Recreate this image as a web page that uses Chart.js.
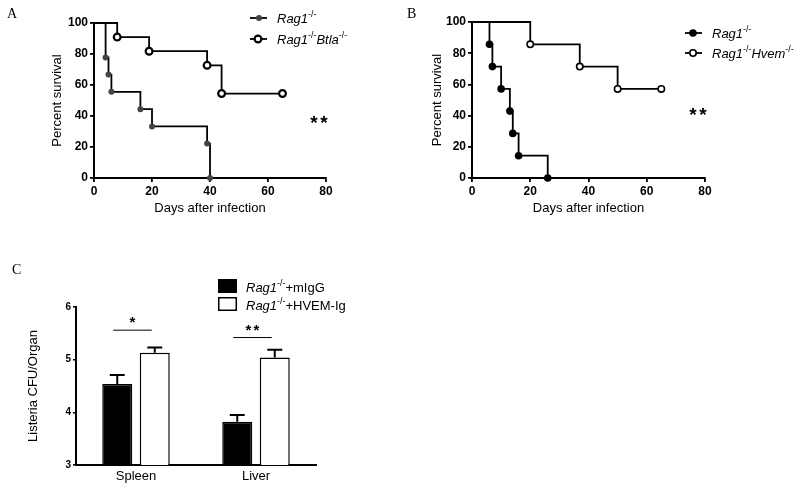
<!DOCTYPE html>
<html>
<head>
<meta charset="utf-8">
<script src="https://cdn.jsdelivr.net/npm/chart.js@4.4.0/dist/chart.umd.min.js"></script>
<style>
body { margin: 0; background: #fff; }
#wrap { position: relative; width: 800px; height: 491px; }
canvas { position: absolute; }
</style>
</head>
<body>
<div id="wrap">
  <canvas id="chartA" width="400" height="220" style="left:0;top:0"></canvas>
  <canvas id="chartB" width="400" height="220" style="left:400px;top:0"></canvas>
  <canvas id="chartC" width="400" height="271" style="left:0;top:220px"></canvas>
</div>
<script>
var FONT = "'Liberation Sans', Arial, sans-serif";
var SERIF = "'Liberation Serif', 'Times New Roman', serif";

// panel A - survival, Rag1-/- vs Rag1-/-Btla-/-
var daysRagA = [0, 4, 5, 6, 16, 20, 39, 40];
var survRagA = [100, 77.8, 66.7, 55.6, 44.4, 33.3, 22.2, 0];
var daysBtla = [0, 8, 19, 39, 44, 65];
var survBtla = [100, 90.9, 81.8, 72.7, 54.5, 54.5];

// panel B - survival, Rag1-/- vs Rag1-/-Hvem-/-
var daysRagB = [0, 6, 7, 10, 13, 14, 16, 26];
var survRagB = [100, 85.7, 71.4, 57.1, 42.9, 28.6, 14.3, 0];
var daysHvem = [0, 20, 37, 50, 65];
var survHvem = [100, 85.7, 71.4, 57.1, 57.1];

var dayTicks = [0, 20, 40, 60, 80];
var survTicks = [0, 20, 40, 60, 80, 100];

// panel C - bacterial load
var organs = ['Spleen', 'Liver'];
var cfuIgG = [4.54, 3.82];
var errIgG = [0.17, 0.13];
var cfuHvemIg = [5.13, 5.04];
var errHvemIg = [0.10, 0.15];
var cfuTicks = [3, 4, 5, 6];
var sigLevels = [5.56, 5.42];
var sigText = ['*', '**'];

function pts(xs, ys) {
    return xs.map(function(x, i) { return {x: x, y: ys[i]}; });
}

// text with italic / superscript pieces
function drawParts(ctx, x, y, parts, size) {
    ctx.textAlign = 'left';
    ctx.textBaseline = 'middle';
    ctx.fillStyle = '#000';
    for (var i = 0; i < parts.length; i++) {
        var p = parts[i];
        var s = p.sup ? size * 0.68 : size;
        ctx.font = (p.it ? 'italic ' : '') + s + 'px ' + FONT;
        ctx.fillText(p.t, x, p.sup ? y - size * 0.36 : y);
        x += ctx.measureText(p.t).width;
    }
}

function legendLine(ctx, x1, x2, y, mx, r, fill, stroke, bw) {
    ctx.save();
    ctx.strokeStyle = '#000';
    ctx.lineWidth = 1.8;
    ctx.beginPath();
    ctx.moveTo(x1, y);
    ctx.lineTo(x2, y);
    ctx.stroke();
    ctx.beginPath();
    ctx.arc(mx, y, r, 0, Math.PI * 2);
    ctx.fillStyle = fill;
    ctx.fill();
    if (bw) {
        ctx.lineWidth = bw;
        ctx.strokeStyle = stroke;
        ctx.stroke();
    }
    ctx.restore();
}

// asterisks, drawn one by one with a fixed gap
function drawStars(ctx, txt, x, y, size, gap) {
    ctx.save();
    ctx.font = 'bold ' + size + 'px ' + FONT;
    ctx.textAlign = 'center';
    ctx.textBaseline = 'alphabetic';
    ctx.fillStyle = '#000';
    var n = txt.length;
    for (var i = 0; i < n; i++) {
        ctx.fillText('*', x + (i - (n - 1) / 2) * gap, y);
    }
    ctx.restore();
}

function panelLetter(ctx, letter, x, y) {
    ctx.save();
    ctx.font = '14px ' + SERIF;
    ctx.textAlign = 'left';
    ctx.textBaseline = 'alphabetic';
    ctx.fillStyle = '#000';
    ctx.fillText(letter, x, y);
    ctx.restore();
}

function axisStyle(tickList, min, max, title, fitFn, titlePad, tickSize) {
    return {
        type: 'linear',
        min: min,
        max: max,
        afterBuildTicks: function(s) {
            s.ticks = tickList.map(function(v) { return {value: v}; });
        },
        afterFit: fitFn,
        ticks: {
            color: '#000',
            padding: 2,
            font: {family: FONT, size: tickSize, weight: 'bold'}
        },
        grid: {drawOnChartArea: false, tickLength: 4, color: '#000', lineWidth: 1.8},
        border: {display: true, color: '#000', width: 2},
        title: {display: true, text: title, color: '#000', padding: titlePad,
                font: {family: FONT, size: 13}}
    };
}

function survivalChart(id, sets, o) {
    return new Chart(document.getElementById(id), {
        type: 'line',
        data: {datasets: sets},
        options: {
            responsive: false,
            animation: false,
            layout: {padding: {left: 0, right: o.right, top: o.top, bottom: 0}},
            plugins: {legend: {display: false}, tooltip: {enabled: false}},
            scales: {
                x: axisStyle(dayTicks, 0, 80, 'Days after infection',
                    function(s) { s.height = o.xh; }, {top: 0, bottom: 4}, 12),
                y: axisStyle(survTicks, 0, 100, 'Percent survival',
                    function(s) { s.width = o.yw; }, {top: o.ytp, bottom: 0}, 12)
            }
        },
        plugins: [{id: 'extras', afterDraw: o.extra}]
    });
}

// Kaplan-Meier step: stay level, then drop at the event day
function kmSet(xs, ys, fill, border, r, bw) {
    return {
        data: pts(xs, ys),
        stepped: 'before',
        borderColor: '#000',
        borderWidth: 1.8,
        fill: false,
        clip: false,
        pointRadius: xs.map(function(d, i) { return i ? r : 0; }),
        pointStyle: 'circle',
        pointBackgroundColor: fill,
        pointBorderColor: border,
        pointBorderWidth: bw
    };
}

survivalChart('chartA', [
    kmSet(daysBtla, survBtla, '#fff', '#000', 3.4, 2.2),
    kmSet(daysRagA, survRagA, '#444', '#444', 3, 0)
], {
    right: 74, top: 23, xh: 42, yw: 94, ytp: 50,
    extra: function(chart) {
        var ctx = chart.ctx;
        var sx = chart.scales.x, sy = chart.scales.y;
        panelLetter(ctx, 'A', 7, 18);
        legendLine(ctx, 250, 267, 18, 259, 3, '#444', '#444', 0);
        drawParts(ctx, 277, 19, [{t: 'Rag1', it: 1}, {t: '-/-', sup: 1}], 13);
        legendLine(ctx, 250, 267, 39, 258, 3.4, '#fff', '#000', 2.2);
        drawParts(ctx, 277, 40, [{t: 'Rag1', it: 1}, {t: '-/-', sup: 1},
            {t: 'Btla', it: 1}, {t: '-/-', sup: 1}], 13);
        drawStars(ctx, '**', sx.getPixelForValue(77.6), sy.getPixelForValue(38.7) + 11, 19, 10);
    }
});

survivalChart('chartB', [
    kmSet(daysHvem, survHvem, '#fff', '#000', 3.2, 1.6),
    kmSet(daysRagB, survRagB, '#000', '#000', 3.8, 0)
], {
    right: 95, top: 22, xh: 42, yw: 72, ytp: 30,
    extra: function(chart) {
        var ctx = chart.ctx;
        var sx = chart.scales.x, sy = chart.scales.y;
        panelLetter(ctx, 'B', 7, 18);
        legendLine(ctx, 285, 302, 33, 293, 3.8, '#000', '#000', 0);
        drawParts(ctx, 312, 34, [{t: 'Rag1', it: 1}, {t: '-/-', sup: 1}], 13);
        legendLine(ctx, 285, 302, 53, 293, 3.2, '#fff', '#000', 1.6);
        drawParts(ctx, 312, 54, [{t: 'Rag1', it: 1}, {t: '-/-', sup: 1},
            {t: 'Hvem', it: 1}, {t: '-/-', sup: 1}], 13);
        drawStars(ctx, '**', sx.getPixelForValue(77.6), sy.getPixelForValue(43.5) + 11, 19, 10);
    }
});

// panel C - bars with upward error bars
var errs = [errIgG, errHvemIg];
new Chart(document.getElementById('chartC'), {
    type: 'bar',
    data: {
        labels: organs,
        datasets: [{
            label: 'Rag1-/-+mIgG',
            data: cfuIgG,
            backgroundColor: '#000',
            borderColor: '#000',
            borderWidth: 1.5,
            categoryPercentage: 0.625,
            barPercentage: 0.8
        }, {
            label: 'Rag1-/-+HVEM-Ig',
            data: cfuHvemIg,
            backgroundColor: '#fff',
            borderColor: '#000',
            borderWidth: 1.5,
            categoryPercentage: 0.625,
            barPercentage: 0.8
        }]
    },
    options: {
        responsive: false,
        animation: false,
        layout: {padding: {left: 0, right: 84, top: 87, bottom: 0}},
        plugins: {legend: {display: false}, tooltip: {enabled: false}},
        scales: {
            x: {
                afterFit: function(s) { s.height = 26; },
                ticks: {color: '#000', padding: 4, font: {family: FONT, size: 13}},
                grid: {display: false, drawTicks: false},
                border: {display: true, color: '#000', width: 2}
            },
            y: {
                min: 3,
                max: 6,
                afterBuildTicks: function(s) {
                    s.ticks = cfuTicks.map(function(v) { return {value: v}; });
                },
                afterFit: function(s) { s.width = 76; },
                ticks: {color: '#000', padding: 2, font: {family: FONT, size: 10, weight: 'bold'}},
                grid: {drawOnChartArea: false, tickLength: 3, color: '#000', lineWidth: 1.5},
                border: {display: true, color: '#000', width: 2},
                title: {display: true, text: 'Listeria CFU/Organ', color: '#000',
                        padding: {top: 26, bottom: 0}, font: {family: FONT, size: 13}}
            }
        }
    },
    plugins: [{
        id: 'extrasC',
        afterDatasetsDraw: function(chart) {
            var ctx = chart.ctx, sy = chart.scales.y;
            ctx.save();
            ctx.strokeStyle = '#000';
            ctx.lineWidth = 2;
            for (var d = 0; d < 2; d++) {
                var meta = chart.getDatasetMeta(d);
                var vals = chart.data.datasets[d].data;
                for (var j = 0; j < meta.data.length; j++) {
                    var el = meta.data[j];
                    var top = sy.getPixelForValue(vals[j] + errs[d][j]);
                    ctx.beginPath();
                    ctx.moveTo(el.x, el.y);
                    ctx.lineTo(el.x, top);
                    ctx.moveTo(el.x - 7.5, top);
                    ctx.lineTo(el.x + 7.5, top);
                    ctx.stroke();
                }
            }
            // significance lines
            var m0 = chart.getDatasetMeta(0), m1 = chart.getDatasetMeta(1);
            ctx.lineWidth = 1;
            for (var k = 0; k < organs.length; k++) {
                var ly = sy.getPixelForValue(sigLevels[k]);
                var a = m0.data[k].x - 4, b = m1.data[k].x - 3;
                ctx.beginPath();
                ctx.moveTo(a, ly);
                ctx.lineTo(b, ly);
                ctx.stroke();
                drawStars(ctx, sigText[k], (a + b) / 2, ly - 3, 15, 8);
            }
            ctx.restore();
        },
        afterDraw: function(chart) {
            var ctx = chart.ctx;
            panelLetter(ctx, 'C', 12, 54);
            ctx.save();
            ctx.fillStyle = '#000';
            ctx.fillRect(218, 59, 19, 14);
            ctx.fillStyle = '#fff';
            ctx.strokeStyle = '#000';
            ctx.lineWidth = 1.5;
            ctx.fillRect(218.75, 77.75, 17.5, 12.5);
            ctx.strokeRect(218.75, 77.75, 17.5, 12.5);
            ctx.restore();
            drawParts(ctx, 246, 68, [{t: 'Rag1', it: 1}, {t: '-/-', sup: 1}, {t: '+mIgG'}], 13);
            drawParts(ctx, 246, 86, [{t: 'Rag1', it: 1}, {t: '-/-', sup: 1}, {t: '+HVEM-Ig'}], 13);
        }
    }]
});
</script>
</body>
</html>
